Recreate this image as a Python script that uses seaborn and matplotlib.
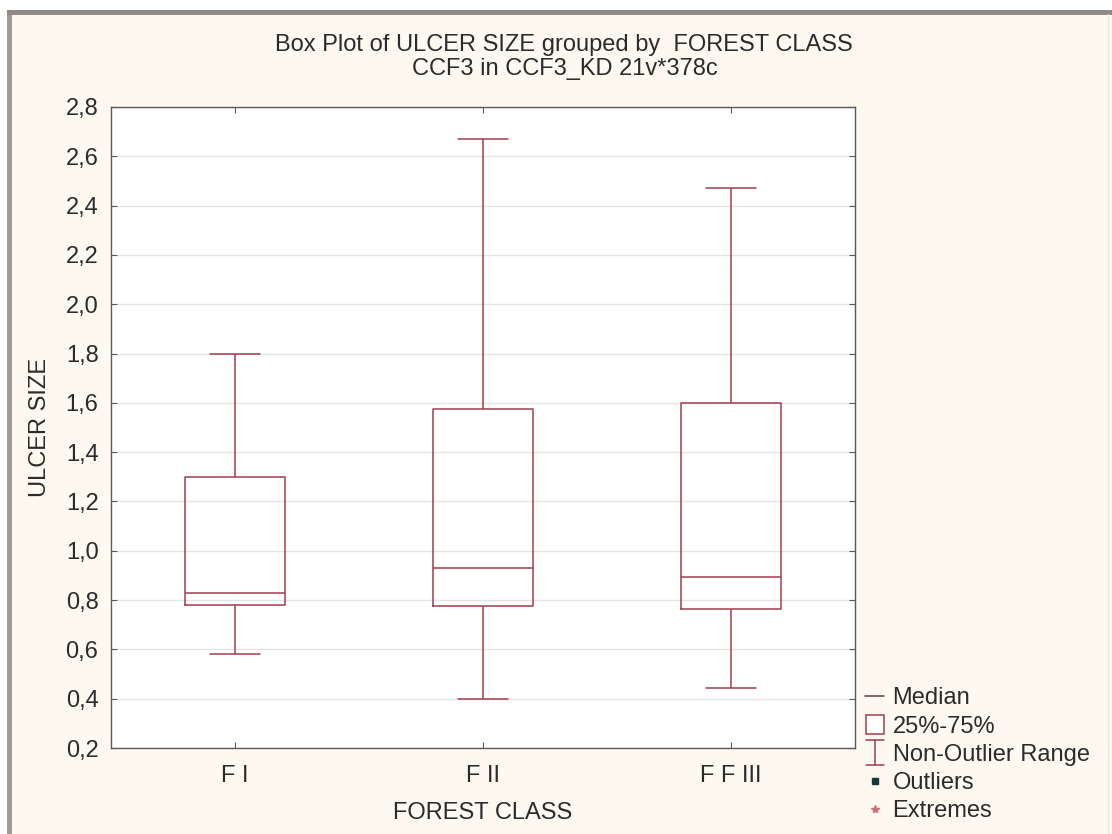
import matplotlib
matplotlib.use("Agg")
import matplotlib.pyplot as plt
import matplotlib.ticker as mticker
from matplotlib.lines import Line2D
from matplotlib.patches import Rectangle
from matplotlib.legend_handler import HandlerBase
import seaborn as sns
import pandas as pd

# Five-number summaries per forest class: min whisker, Q1, median, Q3, max whisker
categories = ["F I", "F II", "F F III"]
summary_fi = [0.58, 0.78, 0.83, 1.30, 1.80]
summary_fii = [0.40, 0.775, 0.93, 1.575, 2.67]
summary_ffiii = [0.445, 0.765, 0.895, 1.60, 2.47]
y_ticks = [0.2, 0.4, 0.6, 0.8, 1.0, 1.2, 1.4, 1.6, 1.8, 2.0, 2.2, 2.4, 2.6, 2.8]
legend_labels = ["Median", "25%-75%", "Non-Outlier Range", "Outliers", "Extremes"]

BOX = "#9e3e4c"
BG = "#fdf9f1"
TXT = "#2b2b2b"

sns.set_style("white")
plt.rcParams["font.family"] = ["Liberation Sans", "DejaVu Sans"]
plt.rcParams["font.size"] = 17

df = pd.DataFrame({
    "FOREST CLASS": [c for c, s in zip(categories, [summary_fi, summary_fii, summary_ffiii]) for _ in s],
    "ULCER SIZE": summary_fi + summary_fii + summary_ffiii,
})

fig = plt.figure(figsize=(11.12, 8.34), dpi=100, facecolor="white")
# window background and frame
fig.patches.append(Rectangle((12 / 1112, 0), 1, 820 / 834, transform=fig.transFigure,
                             facecolor=BG, edgecolor="none", zorder=-10))
fig.patches.append(Rectangle((7 / 1112, 0), 5 / 1112, 824 / 834, transform=fig.transFigure,
                             facecolor="#a09c9a", edgecolor="none", zorder=-9))
fig.patches.append(Rectangle((7 / 1112, 819 / 834), 1, 5 / 834, transform=fig.transFigure,
                             facecolor="#8f8a87", edgecolor="none", zorder=-9))
fig.patches.append(Rectangle((1108 / 1112, 0), 1 / 1112, 820 / 834, transform=fig.transFigure,
                             facecolor="#ece8e0", edgecolor="none", zorder=-9))

ax = fig.add_axes([111 / 1112, 1 - 748 / 834, (855 - 111) / 1112, (748 - 107) / 834])
ax.set_facecolor("white")

sns.boxplot(data=df, x="FOREST CLASS", y="ULCER SIZE", order=categories,
            whis=(0, 100), width=0.40, fill=False, color=BOX, linewidth=1.1,
            showfliers=False, ax=ax)

ax.set_ylim(0.2, 2.8)
ax.set_yticks(y_ticks)
ax.yaxis.set_major_formatter(mticker.FuncFormatter(lambda v, p: f"{v:.1f}".replace(".", ",")))
ax.yaxis.grid(True, color="#e4e4e4", linewidth=1.0)
ax.set_axisbelow(True)
for s in ax.spines.values():
    s.set_visible(True)
    s.set_color("#5a5a5a")
    s.set_linewidth(1.0)
ax.tick_params(axis="both", which="both", direction="in", length=4, width=0.8,
               color="#5a5a5a", labelcolor=TXT, labelsize=17)
ax.tick_params(axis="x", top=True, bottom=True, pad=12)
ax.tick_params(axis="y", left=True, right=True, pad=9)
ax.set_xlabel("FOREST CLASS", fontsize=17, color=TXT, labelpad=11)
ax.set_ylabel("ULCER SIZE", fontsize=17, color=TXT, labelpad=10.5)

fig.text(564 / 1112, 1 - 45 / 834, "Box Plot of ULCER SIZE grouped by  FOREST CLASS",
         ha="center", va="center", fontsize=17, color=TXT)
fig.text(565 / 1112, 1 - 69 / 834, "CCF3 in CCF3_KD 21v*378c",
         ha="center", va="center", fontsize=17, color=TXT)


# legend handle geometry is in points
class HandlerRange(HandlerBase):
    def create_artists(self, legend, orig, xd, yd, w, h, fontsize, trans):
        cx = xd + w / 2
        cy = yd + h / 2
        lo, hi = cy - 9, cy + 9
        v = Line2D([cx, cx], [lo, hi], color=BOX, lw=1.1, transform=trans)
        t = Line2D([cx - 6.5, cx + 6.5], [hi, hi], color=BOX, lw=1.1, transform=trans)
        b = Line2D([cx - 6.5, cx + 6.5], [lo, lo], color=BOX, lw=1.1, transform=trans)
        return [v, t, b]


class HandlerBoxIcon(HandlerBase):
    def create_artists(self, legend, orig, xd, yd, w, h, fontsize, trans):
        cx = xd + w / 2
        cy = yd + h / 2
        r = Rectangle((cx - 6.5, cy - 7.2), 13, 13.7, facecolor="white",
                      edgecolor=BOX, lw=1.1, transform=trans)
        return [r]


h_median = Line2D([], [], color="#6a3a44", lw=1.1)
h_box = Rectangle((0, 0), 1, 1)
h_range = Line2D([], [])
h_out = Line2D([], [], marker="s", ls="none", color="#173838", markersize=5)
h_ext = Line2D([], [], marker="*", ls="none", color="#d07070", markersize=6)

leg = ax.legend([h_median, h_box, h_range, h_out, h_ext], legend_labels,
                handler_map={h_box: HandlerBoxIcon(), h_range: HandlerRange()},
                loc="lower left", bbox_to_anchor=(1.0 + 8 / 744, -0.119), frameon=False,
                fontsize=17, handlelength=0.8, handletextpad=0.35,
                labelspacing=0.26, borderaxespad=0.1, borderpad=0.0)
for t in leg.get_texts():
    t.set_color(TXT)

fig.savefig("out.png", dpi=100, facecolor=fig.get_facecolor())
